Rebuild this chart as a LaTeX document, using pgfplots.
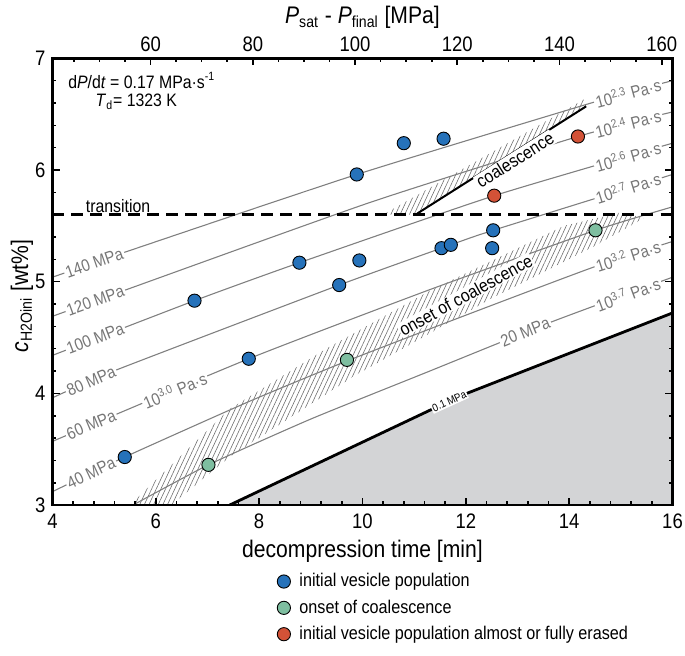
\documentclass[border=0pt]{standalone}
\usepackage{fontspec}
\setmainfont{Liberation Sans}[FakeStretch=0.88]
\usepackage{pgfplots}
\pgfplotsset{compat=1.18}
\usetikzlibrary{patterns.meta}

\definecolor{ptblue}{RGB}{38,114,186}
\definecolor{ptgreen}{RGB}{126,190,160}
\definecolor{ptred}{RGB}{211,82,55}
\definecolor{lgray}{RGB}{128,128,128}
\definecolor{labgray}{RGB}{118,118,118}
\definecolor{regiongray}{RGB}{211,212,214}
\definecolor{hatch}{RGB}{110,110,110}

\begin{document}
\begin{tikzpicture}
\pgfplotsset{
  frame/.style={scale only axis, width=310pt, height=223.35pt, ymin=3, ymax=7,
    tick align=inside, major tick length=3.6pt, minor tick length=2pt,
    every tick/.append style={black, line width=0.8pt},
    axis line style={-, line width=1.2pt},
    tick label style={font=\fontsize{10.5}{11}\selectfont},
    /pgf/number format/assume math mode=true},
  gline/.style={forget plot, lgray, line width=0.55pt, smooth, tension=0.35},
  pts/.style={only marks, mark=*, mark size=3.3pt,
    mark options={draw=black, line width=0.45pt, fill=#1},
    legend image code/.code={\draw[##1] plot coordinates {(0.12cm,0cm)};}},
}
\tikzset{
  glab/.style={font=\fontsize{8.5}{9}\selectfont, text=labgray, fill=white, inner sep=0.8pt},
  txt/.style={font=\fontsize{9}{10}\selectfont},
}

\begin{axis}[frame, name=main,
  xmin=4, xmax=16, xtick={4,6,...,16}, minor x tick num=4,
  ytick={3,...,7}, minor y tick num=4,
  xtick pos=left, ytick pos=both,
  axis on top,
  xlabel={decompression time [min]},
  xlabel style={font=\fontsize{12}{13}\selectfont, at={(axis description cs:0.5,-0.103)}, anchor=center},
  ylabel={\textit{c}\textsubscript{H2Oini} [wt\%]},
  ylabel style={font=\fontsize{12}{13}\selectfont, at={(axis description cs:-0.049,0.468)}, anchor=center},
  xticklabel style={yshift=-1pt},
  legend style={at={(axis description cs:0.362,-0.143)}, anchor=north west, draw=none, fill=none,
    font=\fontsize{9.2}{10}\selectfont, row sep=1pt, column sep=2.5pt, inner sep=0pt},
  legend cell align=left,
]

% region below 0.1 MPa
\addplot[forget plot, fill=regiongray, draw=none] coordinates {(7.43,3.0) (11.31,3.85) (12.02,4.0) (16,4.72) (16,3.0)} -- cycle;

% hatched bands
\addplot[forget plot, draw=none, pattern={Lines[angle=65,distance=2.1pt,line width=0.3pt]}, pattern color=hatch]
  coordinates {(10.40,5.60) (11.06,5.60) (14.33,6.57) (14.28,6.63)} -- cycle;
\addplot[forget plot, draw=none, pattern={Lines[angle=65,distance=2.1pt,line width=0.3pt]}, pattern color=hatch]
  coordinates {(5.50,3.0) (7.43,3.86) (9.3,4.40) (11.31,4.92) (13.9,5.50) (15.0,5.62) (15.45,5.57)
               (14.5,5.32) (12.5,4.85) (9.82,4.15) (7.43,3.43) (6.3,3.0)} -- cycle;

% isobars / isoviscosity lines
\addplot[gline] coordinates {(4,5.04) (5.44,5.27) (9.89,5.96) (14.5,6.61) (16,6.80)};
\addplot[gline] coordinates {(4,4.69) (5.44,4.93) (10.15,5.71) (14.17,6.30) (16,6.52)};
\addplot[gline] coordinates {(4,4.34) (6.75,4.83) (8.78,5.17) (12.55,5.77) (16,6.24)};
\addplot[gline] coordinates {(4,3.96) (5.24,4.21) (9.55,4.97) (11.71,5.33) (12.53,5.46) (16,5.96)};
\addplot[gline] coordinates {(4,3.57) (7.80,4.31) (11.31,4.93) (14.51,5.46) (16,5.67)};
\addplot[gline] coordinates {(4,3.12) (5.40,3.43) (7.82,3.93) (9.70,4.29) (12.0,4.70) (14.47,5.13) (16,5.36)};
\addplot[gline] coordinates {(5.56,3.0) (7.02,3.36) (9.0,3.77) (11.25,4.19) (13.66,4.64) (16,5.04)};

% 0.1 MPa boundary, coalescence line, transition
\addplot[forget plot, black, line width=1.4pt] coordinates {(7.43,3.0) (11.31,3.85) (12.02,4.0) (16,4.72)};
\addplot[forget plot, black, line width=1pt] coordinates {(11.06,5.61) (14.33,6.57)};
\addplot[forget plot, black, line width=1.6pt, dash pattern=on 5.8pt off 3.7pt] coordinates {(4,5.6) (16,5.6)};

% labels
\node[glab, rotate=19.1] at (axis cs:4.81,5.17) {140 MPa};
\node[glab, rotate=19.8] at (axis cs:4.83,4.83) {120 MPa};
\node[glab, rotate=21.0] at (axis cs:4.83,4.49) {100 MPa};
\node[glab, rotate=23.6] at (axis cs:4.75,4.11) {80 MPa};
\node[glab, rotate=22.9] at (axis cs:4.75,3.72) {60 MPa};
\node[glab, rotate=25.5] at (axis cs:4.75,3.29) {40 MPa};
\node[glab, rotate=22.9] at (axis cs:6.37,4.03) {10\textsuperscript{3.0} Pa·s};
\node[glab, rotate=22.0] at (axis cs:13.15,4.55) {20 MPa};
\node[glab, rotate=15.3] at (axis cs:15.14,6.69) {10\textsuperscript{2.3} Pa·s};
\node[glab, rotate=14.6] at (axis cs:15.14,6.42) {10\textsuperscript{2.4} Pa·s};
\node[glab, rotate=16.4] at (axis cs:15.14,6.12) {10\textsuperscript{2.6} Pa·s};
\node[glab, rotate=17.3] at (axis cs:15.14,5.84) {10\textsuperscript{2.7} Pa·s};
\node[glab, rotate=18.0] at (axis cs:15.14,5.23) {10\textsuperscript{3.2} Pa·s};
\node[glab, rotate=20.3] at (axis cs:15.14,4.89) {10\textsuperscript{3.7} Pa·s};
\node[font=\fontsize{5.5}{6}\selectfont, fill=white, inner sep=0.6pt, rotate=24.5] at (axis cs:11.68,3.93) {0.1 MPa};

\node[txt, fill=white, inner sep=0.5pt, rotate=32.3] at (axis cs:12.95,6.09) {coalescence};
\node[txt, fill=white, inner sep=0.5pt, rotate=28.8] at (axis cs:12.0,4.88) {onset of coalescence};
\node[txt, anchor=west, inner sep=0pt] at (axis cs:4.30,6.80) {d\textit{P}/d\textit{t} = 0.17 MPa·s\textsuperscript{-1}};
\node[txt, anchor=west, inner sep=0pt] at (axis cs:4.83,6.61) {\textit{T}\textsubscript{d}= 1323 K};
\node[txt] at (axis cs:5.27,5.68) {transition};

% experiments
\addplot[pts=ptblue] coordinates {(5.40,3.43) (6.75,4.83) (7.80,4.31) (8.78,5.17) (9.55,4.97) (9.94,5.19)
  (9.89,5.96) (10.80,6.24) (11.57,6.28) (11.53,5.30) (11.71,5.33) (12.51,5.30) (12.53,5.46)};
\addlegendentry{initial vesicle population}
\addplot[pts=ptgreen] coordinates {(7.02,3.36) (9.70,4.30) (14.51,5.46)};
\addlegendentry{onset of coalescence}
\addplot[pts=ptred] coordinates {(12.55,5.77) (14.17,6.30)};
\addlegendentry{initial vesicle population almost or fully erased}
\end{axis}

\begin{axis}[frame, xmin=40.8, xmax=162.1,
  axis x line*=top, axis y line=none,
  xtick={60,80,...,160}, minor xtick={45,50,...,160},
  xlabel={\textit{P}\textsubscript{sat} - \textit{P}\textsubscript{final} [MPa]},
  xlabel style={font=\fontsize{12}{13}\selectfont, at={(axis description cs:0.5,1.092)}, anchor=center},
]
\addplot[draw=none, forget plot] coordinates {(60,5)};
\end{axis}

\pgfresetboundingbox
\path[use as bounding box] ([xshift=-26.2pt,yshift=-75pt]main.south west) rectangle ([xshift=6.25pt,yshift=29.15pt]main.north east);
\end{tikzpicture}
\end{document}
